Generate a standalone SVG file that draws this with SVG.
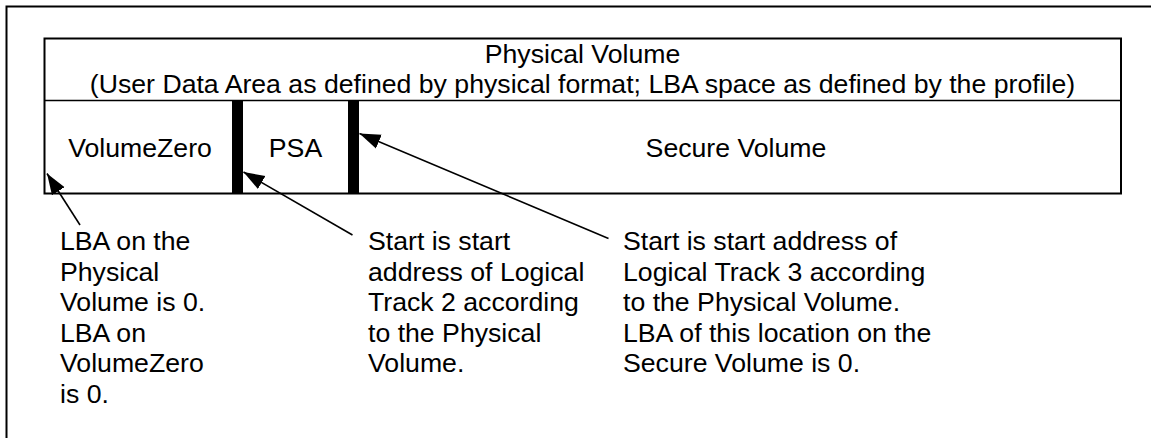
<svg xmlns="http://www.w3.org/2000/svg" width="1151" height="438" viewBox="0 0 1151 438">
<style>
  text { font-family: "Liberation Sans", Arial, sans-serif; font-size: 26.67px; fill: #000; }
  .c { text-anchor: middle; }
  .box { fill: none; stroke: #000; stroke-width: 2; }
  .bar { fill: #000; }
  .conn { stroke: #000; stroke-width: 1.6; fill: none; }
</style>
<defs>
  <marker id="ah" markerUnits="userSpaceOnUse" markerWidth="24" markerHeight="18" viewBox="0 -9 24 18" refX="21" refY="0" orient="auto">
    <path d="M0,-7.5 L21,0 L0,7.5 z" fill="#000"/>
  </marker>
</defs>
<rect width="1151" height="438" fill="#fff"/>
<path id="frame" d="M6.5,445 L6.5,6.5 L1160,6.5" class="box"/>
<g id="physical-volume">
  <rect x="44.5" y="38.5" width="1076.5" height="155" class="box"/>
  <line x1="44.5" y1="100.5" x2="1121" y2="100.5" stroke="#000" stroke-width="1.6"/>
  <text class="c" x="582.5" y="63">Physical Volume</text>
  <text class="c" x="582.5" y="93">(User Data Area as defined by physical format; LBA space as defined by the profile)</text>
</g>
<g id="volumezero">
  <text class="c" x="140" y="157">VolumeZero</text>
</g>
<g id="bar1"><rect class="bar" x="232" y="100" width="11" height="93"/></g>
<g id="psa">
  <text class="c" x="295.5" y="157">PSA</text>
</g>
<g id="bar2"><rect class="bar" x="348" y="100" width="11" height="93"/></g>
<g id="secure-volume">
  <text class="c" x="736" y="157">Secure Volume</text>
</g>
<g id="note1">
  <text x="60" y="250">LBA on the</text>
  <text x="60" y="280.6">Physical</text>
  <text x="60" y="311.2">Volume is 0.</text>
  <text x="60" y="341.8">LBA on</text>
  <text x="60" y="372.4">VolumeZero</text>
  <text x="60" y="403">is 0.</text>
</g>
<g id="note2">
  <text x="368" y="250">Start is start</text>
  <text x="368" y="280.6">address of Logical</text>
  <text x="368" y="311.2">Track 2 according</text>
  <text x="368" y="341.8">to the Physical</text>
  <text x="368" y="372.4">Volume.</text>
</g>
<g id="note3">
  <text x="623" y="250">Start is start address of</text>
  <text x="623" y="280.6">Logical Track 3 according</text>
  <text x="623" y="311.2">to the Physical Volume.</text>
  <text x="623" y="341.8">LBA of this location on the</text>
  <text x="623" y="372.4">Secure Volume is 0.</text>
</g>
<g id="connectors">
  <line class="conn" x1="80" y1="225" x2="47" y2="173.5" marker-end="url(#ah)"/>
  <line class="conn" x1="352.5" y1="235" x2="243.5" y2="172" marker-end="url(#ah)"/>
  <line class="conn" x1="608.5" y1="238.5" x2="359.5" y2="133.5" marker-end="url(#ah)"/>
</g>
</svg>
